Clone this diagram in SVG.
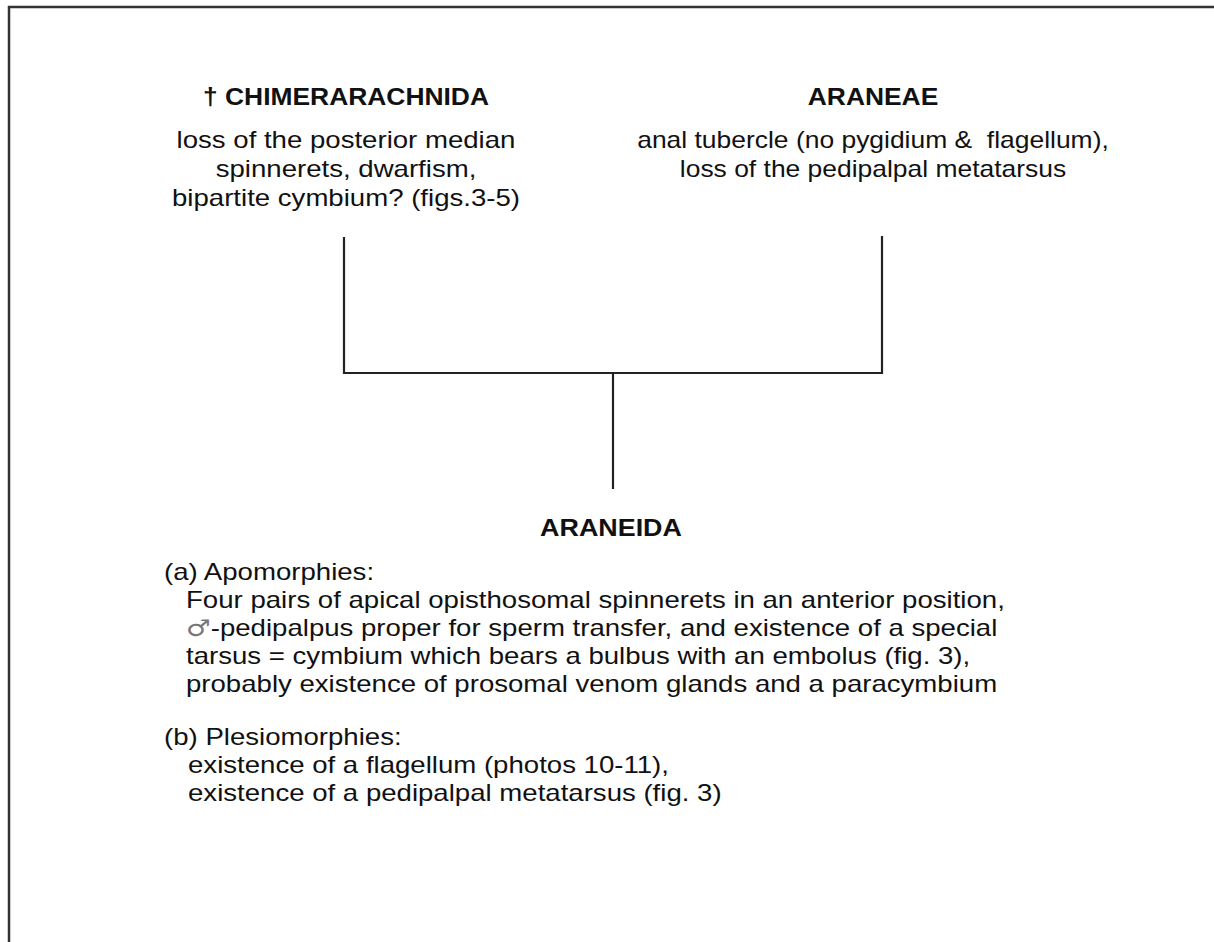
<svg xmlns="http://www.w3.org/2000/svg" width="1214" height="942" viewBox="0 0 1214 942">
  <style>
    .title { font-family: "Liberation Sans", Arial, sans-serif; font-size: 24px; font-weight: bold; fill: #111; }
    .body { font-family: "Liberation Sans", Arial, sans-serif; font-size: 23px; fill: #111; }
    .mid { text-anchor: middle; }
    .sym { font-family: "DejaVu Sans", sans-serif; fill: #777; font-weight: normal; }
    .branch { stroke: #222; stroke-width: 2.2; fill: none; }
  </style>
  <rect x="0" y="0" width="1214" height="942" fill="#ffffff"/>
  <!-- outer frame -->
  <rect x="9" y="7" width="1220" height="950" fill="none" stroke="#333" stroke-width="2.5"/>

  <!-- text is set slightly wide: each line is scaled horizontally about its anchor -->
  <g id="chimerarachnida">
    <g transform="translate(346 105) scale(1.1 1)"><text class="title mid">† CHIMERARACHNIDA</text></g>
    <g transform="translate(346 148) scale(1.2 1)"><text class="body mid">loss of the posterior median</text></g>
    <g transform="translate(346 177) scale(1.2 1)"><text class="body mid">spinnerets, dwarfism,</text></g>
    <g transform="translate(346 206) scale(1.2 1)"><text class="body mid">bipartite cymbium? (figs.3-5)</text></g>
  </g>

  <g id="araneae">
    <g transform="translate(873 105) scale(1.1 1)"><text class="title mid">ARANEAE</text></g>
    <g transform="translate(873 148) scale(1.15 1)"><text class="body mid" xml:space="preserve">anal tubercle (no pygidium &amp;  flagellum),</text></g>
    <g transform="translate(873 177) scale(1.15 1)"><text class="body mid">loss of the pedipalpal metatarsus</text></g>
  </g>

  <g id="araneida">
    <g transform="translate(611 536) scale(1.12 1)"><text class="title mid">ARANEIDA</text></g>
    <g transform="translate(164 580) scale(1.2 1)"><text class="body">(a) Apomorphies:</text></g>
    <g transform="translate(186 608) scale(1.2 1)"><text class="body">Four pairs of apical opisthosomal spinnerets in an anterior position,</text></g>
    <g transform="translate(186 636) scale(1.2 1)"><text class="body"><tspan class="sym">♂</tspan>-pedipalpus proper for sperm transfer, and existence of a special</text></g>
    <g transform="translate(186 664) scale(1.2 1)"><text class="body">tarsus = cymbium which bears a bulbus with an embolus (fig. 3),</text></g>
    <g transform="translate(186 692) scale(1.2 1)"><text class="body">probably existence of prosomal venom glands and a paracymbium</text></g>
    <g transform="translate(164 745) scale(1.2 1)"><text class="body">(b) Plesiomorphies:</text></g>
    <g transform="translate(188 773) scale(1.2 1)"><text class="body">existence of a flagellum (photos 10-11),</text></g>
    <g transform="translate(188 801) scale(1.2 1)"><text class="body">existence of a pedipalpal metatarsus (fig. 3)</text></g>
  </g>

  <g id="connectors">
    <path class="branch" d="M344 237 V373 H882 V236"/>
    <path class="branch" d="M613 373 V489"/>
  </g>
</svg>
